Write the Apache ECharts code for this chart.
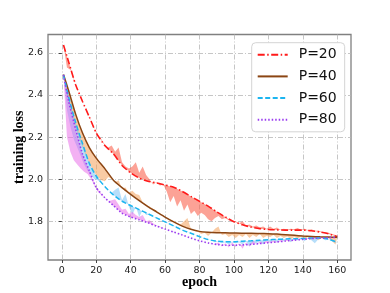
<!DOCTYPE html>
<html><head><meta charset="utf-8">
<script src="https://cdn.jsdelivr.net/npm/echarts@6/dist/echarts.min.js"></script>
<style>html,body{margin:0;padding:0;background:#fff}#c{width:390px;height:293px}</style>
</head><body><div id="c"></div>
<script>
const seriesNames = ['P=20', 'P=40', 'P=60', 'P=80'];
const xTicks = [0, 20, 40, 60, 80, 100, 120, 140, 160];
const yTicks = [1.8, 2.0, 2.2, 2.4, 2.6];

const epochsSmooth = [1,4,8,12,16,20,25,30,35,40,45,50,55,60,65,70,75,80,85,90,95,100,105,110,115,120,125,130,135,140,145,150,155,160];
const smoothP20 = [2.637,2.557,2.45,2.37,2.295,2.22,2.16,2.12,2.065,2.03,2.005,1.99,1.982,1.972,1.962,1.942,1.918,1.895,1.872,1.845,1.82,1.798,1.783,1.772,1.765,1.761,1.759,1.758,1.758,1.758,1.755,1.749,1.74,1.727];
const smoothP40 = [2.497,2.42,2.31,2.22,2.15,2.10,2.05,1.995,1.96,1.928,1.898,1.87,1.845,1.82,1.797,1.777,1.762,1.752,1.748,1.746,1.745,1.744,1.743,1.743,1.742,1.741,1.739,1.736,1.733,1.73,1.728,1.726,1.725,1.724];
const smoothP60 = [2.495,2.39,2.27,2.17,2.075,2.015,1.965,1.925,1.895,1.875,1.855,1.836,1.816,1.797,1.778,1.758,1.743,1.727,1.713,1.706,1.703,1.703,1.705,1.707,1.71,1.712,1.714,1.716,1.717,1.718,1.72,1.72,1.715,1.70];
const smoothP80 = [2.495,2.37,2.24,2.12,2.04,1.96,1.912,1.875,1.838,1.82,1.807,1.793,1.777,1.763,1.749,1.735,1.72,1.707,1.697,1.69,1.686,1.686,1.688,1.69,1.694,1.698,1.702,1.706,1.71,1.714,1.718,1.72,1.722,1.724];

const rawEpochs = [1,3,5,7,9,11,13,15,17,19,21,23,25,27,29,31,33,35,37,39,41,43,45,47,49,51,53,55,57,59,61,63,65,67,69,71,73,75,77,79,81,83,85,87,89,91,93,95,97,99,101,103,105,107,109,111,113,115,117,119,121,123,125,127,129,131,133,135,137,139,141,143,145,147,149,151,153,155,157,159,160];
const rawP20 = [2.637,2.53,2.52,2.47,2.43,2.39,2.35,2.315,2.28,2.24,2.21,2.19,2.165,2.15,2.16,2.13,2.15,2.08,2.06,2.05,2.06,2.08,2.03,2.06,2.02,2.00,1.975,1.985,1.97,1.975,1.94,1.89,1.92,1.87,1.90,1.85,1.88,1.835,1.85,1.825,1.84,1.83,1.81,1.80,1.815,1.825,1.81,1.815,1.805,1.80,1.80,1.79,1.80,1.78,1.785,1.775,1.78,1.77,1.775,1.765,1.775,1.765,1.77,1.76,1.765,1.76,1.765,1.762,1.768,1.76,1.765,1.758,1.762,1.755,1.755,1.75,1.748,1.745,1.74,1.735,1.727];
const rawP40 = [2.497,2.40,2.33,2.27,2.22,2.17,2.13,2.095,2.06,2.03,2.01,1.995,1.99,2.01,2.0,1.985,1.995,1.955,1.96,1.935,1.945,1.93,1.925,1.89,1.88,1.87,1.86,1.85,1.835,1.826,1.815,1.808,1.80,1.79,1.785,1.80,1.815,1.765,1.755,1.75,1.74,1.745,1.73,1.745,1.765,1.775,1.735,1.74,1.725,1.735,1.72,1.735,1.725,1.74,1.72,1.735,1.725,1.74,1.72,1.73,1.725,1.735,1.72,1.73,1.72,1.728,1.715,1.725,1.718,1.728,1.715,1.725,1.712,1.72,1.71,1.72,1.715,1.72,1.705,1.69,1.724];
const rawP60 = [2.495,2.33,2.25,2.19,2.15,2.11,2.07,2.04,2.02,2.00,1.995,1.98,1.965,1.95,1.935,1.95,1.96,1.90,1.93,1.87,1.83,1.87,1.82,1.855,1.83,1.832,1.82,1.815,1.81,1.80,1.795,1.788,1.78,1.773,1.763,1.755,1.75,1.745,1.738,1.73,1.725,1.716,1.712,1.71,1.70,1.705,1.695,1.70,1.69,1.70,1.695,1.70,1.69,1.705,1.68,1.70,1.695,1.705,1.69,1.71,1.70,1.712,1.70,1.714,1.705,1.716,1.70,1.717,1.71,1.718,1.705,1.72,1.71,1.695,1.715,1.72,1.71,1.712,1.705,1.698,1.70];
const rawP80 = [2.495,2.20,2.13,2.09,2.07,2.05,2.035,2.025,2.00,1.97,1.94,1.925,1.91,1.895,1.90,1.905,1.88,1.855,1.86,1.835,1.845,1.83,1.82,1.83,1.80,1.805,1.79,1.78,1.775,1.765,1.76,1.755,1.75,1.743,1.737,1.733,1.726,1.72,1.715,1.71,1.705,1.70,1.697,1.693,1.69,1.70,1.68,1.695,1.675,1.70,1.678,1.695,1.67,1.70,1.68,1.71,1.69,1.705,1.695,1.71,1.70,1.71,1.70,1.712,1.705,1.715,1.705,1.715,1.71,1.72,1.712,1.72,1.715,1.725,1.718,1.725,1.72,1.725,1.722,1.725,1.724];

const smoothSets = [smoothP20, smoothP40, smoothP60, smoothP80];
const rawSets = [rawP20, rawP40, rawP60, rawP80];
const lineColors = ['#ff1a1a', '#8b4513', '#1cb5f0', '#9a3cf0'];
const bandColors = ['rgba(250,100,80,0.6)', 'rgba(244,160,90,0.55)', 'rgba(110,190,245,0.5)', 'rgba(232,100,232,0.5)'];
const lineTypes = [[7,2.5,1.5,2.5], 'solid', [5,2.5], [1.5,2]];
const lineWidths = [1.6, 1.5, 1.5, 1.6];

function pairs(xs, ys) { return xs.map((x, i) => [x, ys[i]]); }

const series = [];
seriesNames.forEach((name, k) => {
  const raw = rawSets[k], sm = smoothSets[k];
  series.push({
    type: 'custom', name: name + ' raw', silent: true, z: 1, clip: true,
    data: [[rawEpochs[0], raw[0]]],
    renderItem: function (params, api) {
      const pts = [];
      for (let i = 0; i < rawEpochs.length; i++) pts.push(api.coord([rawEpochs[i], raw[i]]));
      for (let i = epochsSmooth.length - 1; i >= 0; i--) pts.push(api.coord([epochsSmooth[i], sm[i]]));
      return { type: 'polygon', shape: { points: pts }, style: { fill: bandColors[k], stroke: null } };
    }
  });
});
seriesNames.forEach((name, k) => {
  series.push({
    type: 'line', name: name, data: pairs(epochsSmooth, smoothSets[k]),
    symbol: 'none', showSymbol: false, smooth: 0.2, z: 3, silent: true,
    lineStyle: { color: lineColors[k], width: lineWidths[k], type: lineTypes[k] },
    itemStyle: { color: lineColors[k] }
  });
});

const chart = echarts.init(document.getElementById('c'), null, { renderer: 'canvas' });
chart.setOption({
  animation: false,
  backgroundColor: '#fff',
  grid: { left: 48, right: 39, top: 34.5, bottom: 33, outerBoundsMode: 'none', containLabel: false, show: true, borderColor: '#808080', borderWidth: 1.3, backgroundColor: 'transparent' },
  legend: {
    data: seriesNames, orient: 'vertical', left: 251.7, top: 42.7,
    itemWidth: 30, itemHeight: 14, itemGap: 7.7, padding: [5, 8, 5, 5],
    backgroundColor: '#fff', borderColor: '#d4d4d4', borderWidth: 1, borderRadius: 4,
    itemStyle: { opacity: 0 },
    textStyle: { fontFamily: 'DejaVu Sans', fontSize: 14, color: '#111', padding: [0, 0, 0, 6] }
  },
  xAxis: {
    type: 'value', min: -8, max: 168,
    axisLine: { show: false },
    axisTick: { show: true, customValues: xTicks, length: 3, lineStyle: { color: '#444' } },
    axisLabel: { customValues: xTicks, margin: 6, fontFamily: 'DejaVu Sans', fontSize: 9.5, color: '#222' },
    splitLine: { show: true, lineStyle: { color: '#b8b8b8', width: 0.8, type: [5, 2, 1, 2] } },
    name: 'epoch', nameLocation: 'middle', nameGap: 15, nameMoveOverlap: false,
    nameTextStyle: { fontFamily: 'Liberation Serif', fontWeight: 'bold', fontSize: 14, color: '#000' }
  },
  yAxis: {
    type: 'value', min: 1.616, max: 2.687,
    axisLine: { show: false },
    axisTick: { show: true, customValues: yTicks, length: 3, lineStyle: { color: '#444' } },
    axisLabel: { customValues: yTicks, margin: 5, fontFamily: 'DejaVu Sans', fontSize: 9.5, color: '#222', formatter: v => v.toFixed(1) },
    splitLine: { show: true, lineStyle: { color: '#b8b8b8', width: 0.8, type: [5, 2, 1, 2] } },
    name: 'training loss', nameLocation: 'middle', nameGap: 22, nameRotate: 90, nameMoveOverlap: false,
    nameTextStyle: { fontFamily: 'Liberation Serif', fontWeight: 'bold', fontSize: 14, color: '#000' }
  },
  series: series
});
</script></body></html>
